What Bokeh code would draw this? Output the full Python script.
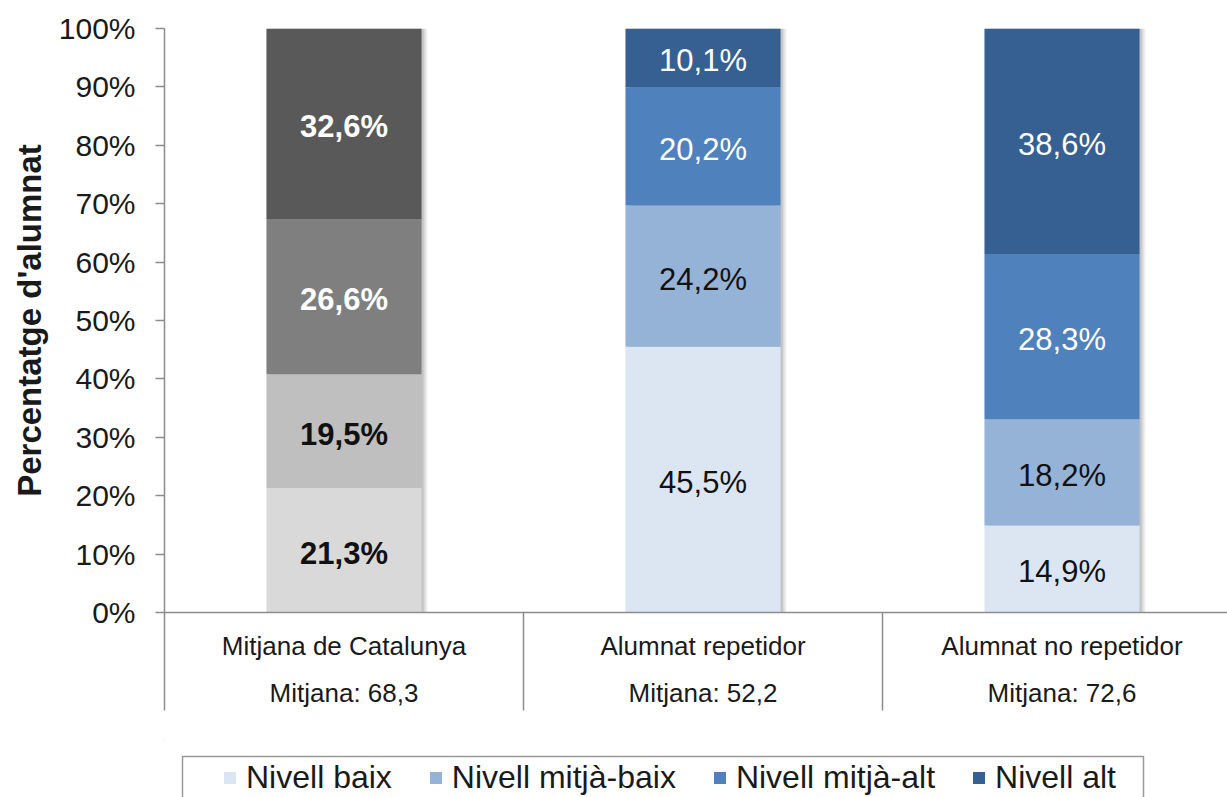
from bokeh.plotting import figure
from bokeh.layouts import column
from bokeh.models import ColumnDataSource, Range1d, FixedTicker, Legend, LegendItem
from bokeh.embed import file_html
from bokeh.resources import INLINE
from bokeh.core.properties import value

# ---------------- data ----------------
categories = ["Mitjana de Catalunya", "Alumnat repetidor", "Alumnat no repetidor"]
mitjanes = ["68,3", "52,2", "72,6"]
levels = ["Nivell baix", "Nivell mitjà-baix", "Nivell mitjà-alt", "Nivell alt"]
nivell_baix = [21.3, 45.5, 14.9]
nivell_mitja_baix = [19.5, 24.2, 18.2]
nivell_mitja_alt = [26.6, 20.2, 28.3]
nivell_alt = [32.6, 10.1, 38.6]
y_ticks = [0, 10, 20, 30, 40, 50, 60, 70, 80, 90, 100]

series = [nivell_baix, nivell_mitja_baix, nivell_mitja_alt, nivell_alt]

# ---------------- styles ----------------
FONT = "Liberation Sans"
gray_palette = ["#d9d9d9", "#bfbfbf", "#7f7f7f", "#595959"]
blue_palette = ["#dce6f2", "#95b3d7", "#4f81bd", "#376092"]
label_colors = ["#111111", "#111111", "#ffffff", "#ffffff"]
AXIS_COLOR = "#8c8c8c"
BAR_W = 0.432
W = 1227
LEFT = 164
H_MAIN = 740
H_LEG = 57

xs = [i + 0.5 for i in range(len(categories))]

p = figure(width=W, height=H_MAIN,
           x_range=Range1d(0, 2.961), y_range=Range1d(0, 100),
           output_backend="svg", toolbar_location=None,
           min_border_left=LEFT, min_border_right=0,
           min_border_top=28, min_border_bottom=H_MAIN - 612)
p.grid.visible = False
p.outline_line_color = None
p.background_fill_color = "white"
p.border_fill_color = "white"

# soft shadow at the right of the bars
totals = [sum(s[i] for s in series) for i in range(len(categories))]
for off, a in [(0.016, 0.07), (0.011, 0.08), (0.006, 0.10)]:
    shadow_x = [v + off for v in xs]
    p.vbar(x=shadow_x, top=totals, bottom=0, width=BAR_W,
           fill_color="black", fill_alpha=a, line_color=None)

# stacked bars
bottoms = [0.0] * len(categories)
lab_x, lab_y, lab_t, lab_c, lab_s = [], [], [], [], []
for j, vals in enumerate(series):
    tops = [b + v for b, v in zip(bottoms, vals)]
    colors = [gray_palette[j] if i == 0 else blue_palette[j] for i in range(len(categories))]
    src = ColumnDataSource(dict(x=xs, top=tops, bottom=bottoms, color=colors))
    p.vbar(x="x", top="top", bottom="bottom", width=BAR_W, source=src,
           fill_color="color", line_color=None)
    for i in range(len(categories)):
        lab_x.append(xs[i])
        lab_y.append(bottoms[i] + vals[i] / 2)
        lab_t.append(f"{vals[i]:.1f}".replace(".", ",") + "%")
        lab_c.append(label_colors[j])
        lab_s.append("bold" if i == 0 else "normal")
    bottoms = tops

lab_src = ColumnDataSource(dict(x=lab_x, y=lab_y, t=lab_t, c=lab_c, s=lab_s))
p.text(x="x", y="y", text="t", source=lab_src, text_color="c", text_font_style="s",
       text_font=value(FONT), text_font_size="31px", text_align="center",
       text_baseline="middle", y_offset=3)

# y axis
ya = p.yaxis[0]
ya.ticker = FixedTicker(ticks=y_ticks, minor_ticks=[])
ya.major_label_overrides = {t: f"{t}%" for t in y_ticks}
ya.major_tick_out = 9
ya.major_tick_in = 0
ya.major_tick_line_color = AXIS_COLOR
ya.major_tick_line_width = 1.5
ya.axis_line_color = AXIS_COLOR
ya.axis_line_width = 1.5
ya.major_label_standoff = 20
ya.major_label_text_font = FONT
ya.major_label_text_font_size = "30px"
ya.major_label_text_color = "#1a1a1a"
ya.axis_label = "Percentatge d'alumnat"
ya.axis_label_text_font = FONT
ya.axis_label_text_font_size = "33px"
ya.axis_label_text_font_style = "bold"
ya.axis_label_text_color = "#1a1a1a"
ya.axis_label_standoff = 8

# x axis: category names and means, separators as long minor ticks
xa = p.xaxis[0]
xa.ticker = FixedTicker(ticks=xs, minor_ticks=[0, 1, 2])
xa.major_label_overrides = {xs[i]: f"{categories[i]}\nMitjana: {mitjanes[i]}"
                            for i in range(len(categories))}
xa.major_tick_out = 0
xa.major_tick_in = 0
xa.minor_tick_out = 98
xa.minor_tick_in = 0
xa.minor_tick_line_color = AXIS_COLOR
xa.minor_tick_line_width = 1.5
xa.axis_line_color = AXIS_COLOR
xa.axis_line_width = 1.5
xa.major_label_standoff = -80
xa.major_label_text_font = FONT
xa.major_label_text_font_size = "26px"
xa.major_label_text_color = "#1a1a1a"
xa.major_label_text_line_height = 1.57

# ---------------- legend strip (page coordinates) ----------------
pl = figure(width=W, height=H_LEG,
            x_range=Range1d(LEFT, W), y_range=Range1d(H_MAIN + H_LEG, H_MAIN),
            output_backend="svg", toolbar_location=None,
            x_axis_location=None, y_axis_location=None,
            min_border_left=LEFT, min_border_right=0,
            min_border_top=0, min_border_bottom=0)
pl.grid.visible = False
pl.outline_line_color = None
pl.background_fill_color = "white"
pl.border_fill_color = "white"

# legend frame
pl.quad(left=[182], right=[1143], top=[756], bottom=[H_MAIN + H_LEG + 10],
        fill_color="white", line_color="#9a9a9a", line_width=1.5)

items = []
for j, lev in enumerate(levels):
    # off-screen placeholder glyph, only used to draw the legend swatch
    r = pl.vbar(x=[-1000], top=[H_MAIN - 100], bottom=[H_MAIN - 200], width=1,
                fill_color=blue_palette[j], line_color=None)
    items.append(LegendItem(label=lev, renderers=[r]))

legend = Legend(items=items, orientation="horizontal", location=(222 - LEFT, 1),
                label_text_font=FONT, label_text_font_size="32px",
                label_text_color="#1a1a1a", glyph_width=15, glyph_height=15,
                label_standoff=9, spacing=36, padding=0, margin=0,
                border_line_color=None, background_fill_alpha=0.0)
pl.add_layout(legend)

layout = column(p, pl, spacing=0)
open("out.html", "w").write(file_html(layout, INLINE))
